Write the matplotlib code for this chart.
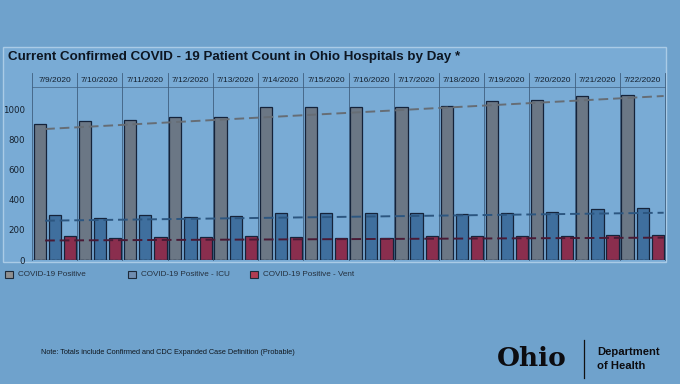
import matplotlib
matplotlib.use("Agg")
import matplotlib.pyplot as plt
from matplotlib.patches import Rectangle
import matplotlib.transforms as mtransforms
import numpy as np

# data
dates = ["7/9/2020", "7/10/2020", "7/11/2020", "7/12/2020", "7/13/2020", "7/14/2020", "7/15/2020",
         "7/16/2020", "7/17/2020", "7/18/2020", "7/19/2020", "7/20/2020", "7/21/2020", "7/22/2020"]
positive = [907, 929, 931, 953, 953, 1022, 1022, 1022, 1017, 1029, 1062, 1067, 1095, 1100]
icu = [302, 282, 297, 289, 293, 315, 315, 311, 315, 307, 315, 322, 342, 349]
vent = [157, 147, 153, 153, 157, 153, 144, 147, 162, 162, 162, 162, 169, 169]
# trendline ends (left, right) as drawn in the picture
trend_positive = [873, 1093]
trend_icu = [262, 315]
trend_vent = [130, 149]
series_names = ["COVID-19 Positive", "COVID-19 Positive - ICU", "COVID-19 Positive - Vent"]

W, H = 680, 384
BG = "#6fa2cc"
PANEL = "#79abd5"
bar_cols = ["#6b7785", "#3f6f9e", "#8a2e4e"]
leg_cols = ["#8f8f8f", "#6f8db0", "#b23c52"]
trend_cols = ["#666d75", "#2c5680", "#4a1a35"]
EDGE = "#15233a"
TXT = "#14202e"

fig = plt.figure(figsize=(W / 100, H / 100), dpi=100)
fig.patch.set_facecolor(BG)

def fx(px):
    return px / W

def fy(py):
    return 1 - py / H

# chart panel
fig.patches.append(Rectangle((fx(3), fy(262)), fx(663), 215 / H, transform=fig.transFigure,
                             facecolor=PANEL, edgecolor="#aacbe6", lw=1, zorder=-5))
fig.text(fx(8), fy(57), "Current Confirmed COVID - 19 Patient Count in Ohio Hospitals by Day *",
         fontsize=9.6, fontweight="bold", color="#0d1622", family="Liberation Sans", va="center")

ax = fig.add_axes([fx(32), fy(260), fx(633), 173 / H])
ax.set_zorder(2)
ax.set_facecolor("none")
n = len(dates)
x = np.arange(n)
offs = [0.17, 0.505, 0.84]
bw = 0.27
for vals, o, c in zip([positive, icu, vent], offs, bar_cols):
    ax.bar(x + o, vals, width=bw, color=c, edgecolor=EDGE, lw=0.9, zorder=2)

xt = np.array([0.29, n - 0.03])
for tr, c in zip([trend_positive, trend_icu, trend_vent], trend_cols):
    ax.plot(xt, tr, ls=(0, (5, 2.5)), color=c, lw=1.4, zorder=3)

ax.set_xlim(0, n)
ax.set_ylim(0, 1153)
ax.set_xticks([])
ax.set_yticks(range(0, 1001, 200))
ax.tick_params(axis="y", length=0, pad=5, labelsize=6.2, labelcolor=TXT)
for s in ax.spines.values():
    s.set_visible(False)
ax.axhline(0, color="#24344a", ls=(0, (2, 1.5)), lw=1, zorder=4)
ax.axhline(1153, color="#4a6c8e", lw=0.6, zorder=1, clip_on=False)

# date header and group separators
trans = mtransforms.blended_transform_factory(ax.transData, ax.transAxes)
top = (260 - 73) / 173
for i in range(n + 1):
    ax.plot([i, i], [0, top], transform=trans, color="#3f5f7f", lw=0.6, clip_on=False, zorder=1)
for i, d in enumerate(dates):
    ax.text(i + 0.5, (260 - 80) / 173, d, transform=trans, ha="center", va="center",
            fontsize=6.0, color=TXT, family="Liberation Sans")

# legend
leg_x = [5, 128, 250]
for lx, c, name in zip(leg_x, leg_cols, series_names):
    fig.patches.append(Rectangle((fx(lx), fy(278)), fx(7.5), 7.5 / H, transform=fig.transFigure,
                                 facecolor=c, edgecolor="#1d2a3a", lw=0.8))
    fig.text(fx(lx + 13), fy(274), name, fontsize=5.9, color="#24303e", va="center",
             family="Liberation Sans")

fig.text(fx(41), fy(352), "Note: Totals include Confirmed and CDC Expanded Case Definition (Probable)",
         fontsize=5.3, color="#101820", va="center", family="Liberation Sans")

# logo
fig.text(fx(497), fy(359), "Ohio", fontsize=19, fontweight="bold", color="#0c0c10",
         va="center", family="DejaVu Serif")
fig.lines.append(plt.Line2D([fx(584), fx(584)], [fy(340), fy(378)], transform=fig.transFigure,
                            color="#111", lw=0.9))
fig.text(fx(597), fy(352), "Department", fontsize=8.1, fontweight="bold", color="#0c0c10",
         va="center", family="Liberation Sans")
fig.text(fx(597), fy(366), "of Health", fontsize=8.1, fontweight="bold", color="#0c0c10",
         va="center", family="Liberation Sans")

fig.savefig("out.png", dpi=100, facecolor=BG)
